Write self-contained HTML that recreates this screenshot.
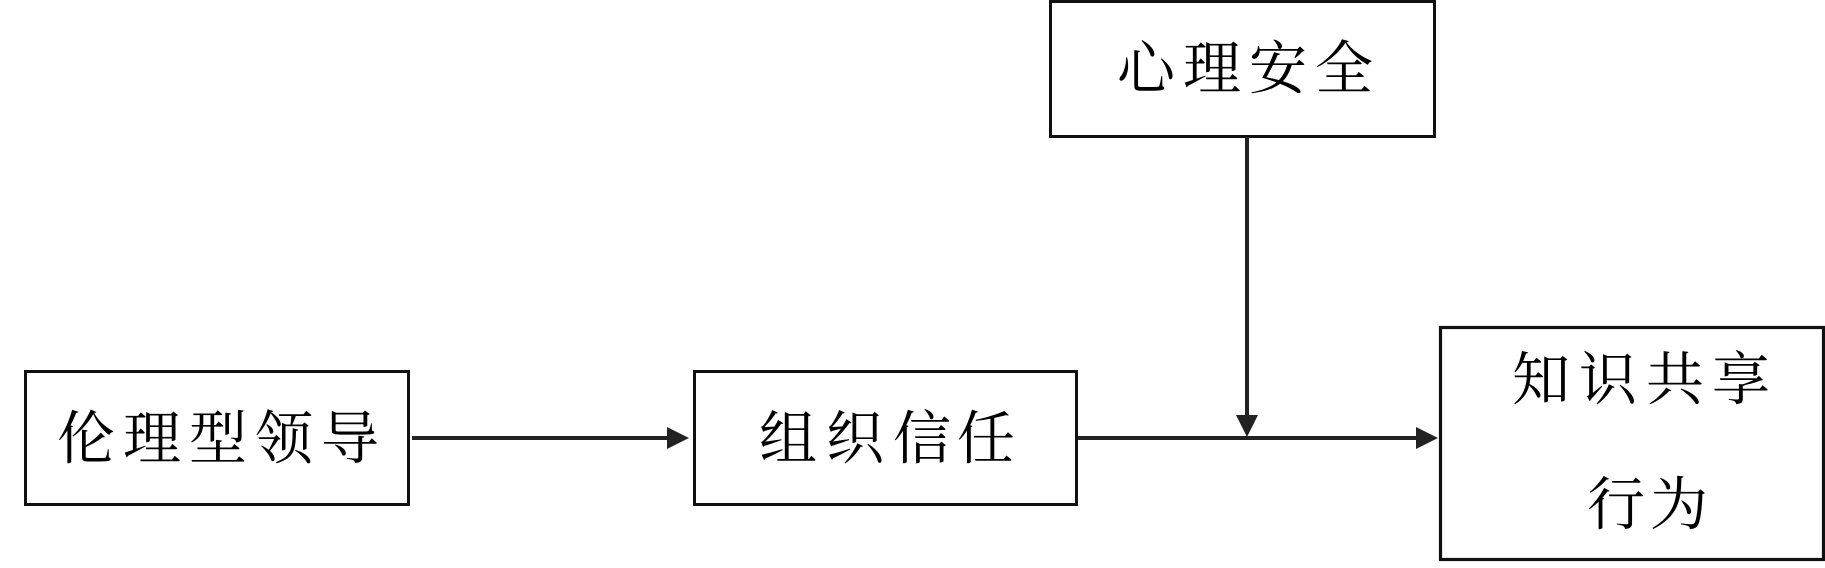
<!DOCTYPE html>
<html>
<head>
<meta charset="utf-8">
<style>
  html, body { margin: 0; padding: 0; background: #fff; }
  body { width: 1825px; height: 563px; overflow: hidden; }
  svg text { font-family: "Liberation Serif", "Noto Serif CJK SC", serif; font-size: 58px; fill: #000; }
</style>
</head>
<body>
<svg width="1825" height="563" viewBox="0 0 1825 563" xmlns="http://www.w3.org/2000/svg">
  <rect width="1825" height="563" fill="#fff"/>
  <!-- Boxes -->
  <rect x="25.5" y="371.5" width="383" height="133" fill="none" stroke="#111" stroke-width="3"/>
  <rect x="694.5" y="371.5" width="382" height="133" fill="none" stroke="#111" stroke-width="3"/>
  <rect x="1050.5" y="1.5" width="384" height="135" fill="none" stroke="#111" stroke-width="3"/>
  <rect x="1440.5" y="327.5" width="383" height="232" fill="none" stroke="#111" stroke-width="3.2"/>

  <!-- Connectors -->
  <line x1="412" y1="438" x2="670" y2="438" stroke="#222" stroke-width="4"/>
  <polygon points="667,427 689,438 667,449" fill="#222"/>
  <line x1="1078" y1="438" x2="1419" y2="438" stroke="#222" stroke-width="4"/>
  <polygon points="1416,427 1438,438 1416,449" fill="#222"/>
  <line x1="1247" y1="137" x2="1247" y2="417" stroke="#222" stroke-width="4"/>
  <polygon points="1236,415 1258,415 1247,437" fill="#222"/>

  <!-- Labels -->
  <g text-anchor="middle" dominant-baseline="central">
    <text x="86" y="439">伦</text>
    <text x="152" y="439">理</text>
    <text x="218" y="439">型</text>
    <text x="284" y="439">领</text>
    <text x="350" y="439">导</text>

    <text x="788" y="439">组</text>
    <text x="855" y="439">织</text>
    <text x="922" y="439">信</text>
    <text x="986" y="439">任</text>

    <text x="1146" y="69">心</text>
    <text x="1212" y="69">理</text>
    <text x="1278" y="69">安</text>
    <text x="1344" y="69">全</text>

    <text x="1541" y="380">知</text>
    <text x="1608" y="380">识</text>
    <text x="1675" y="380">共</text>
    <text x="1741" y="380">享</text>

    <text x="1616" y="505">行</text>
    <text x="1679" y="505">为</text>
  </g>
</svg>
</body>
</html>
